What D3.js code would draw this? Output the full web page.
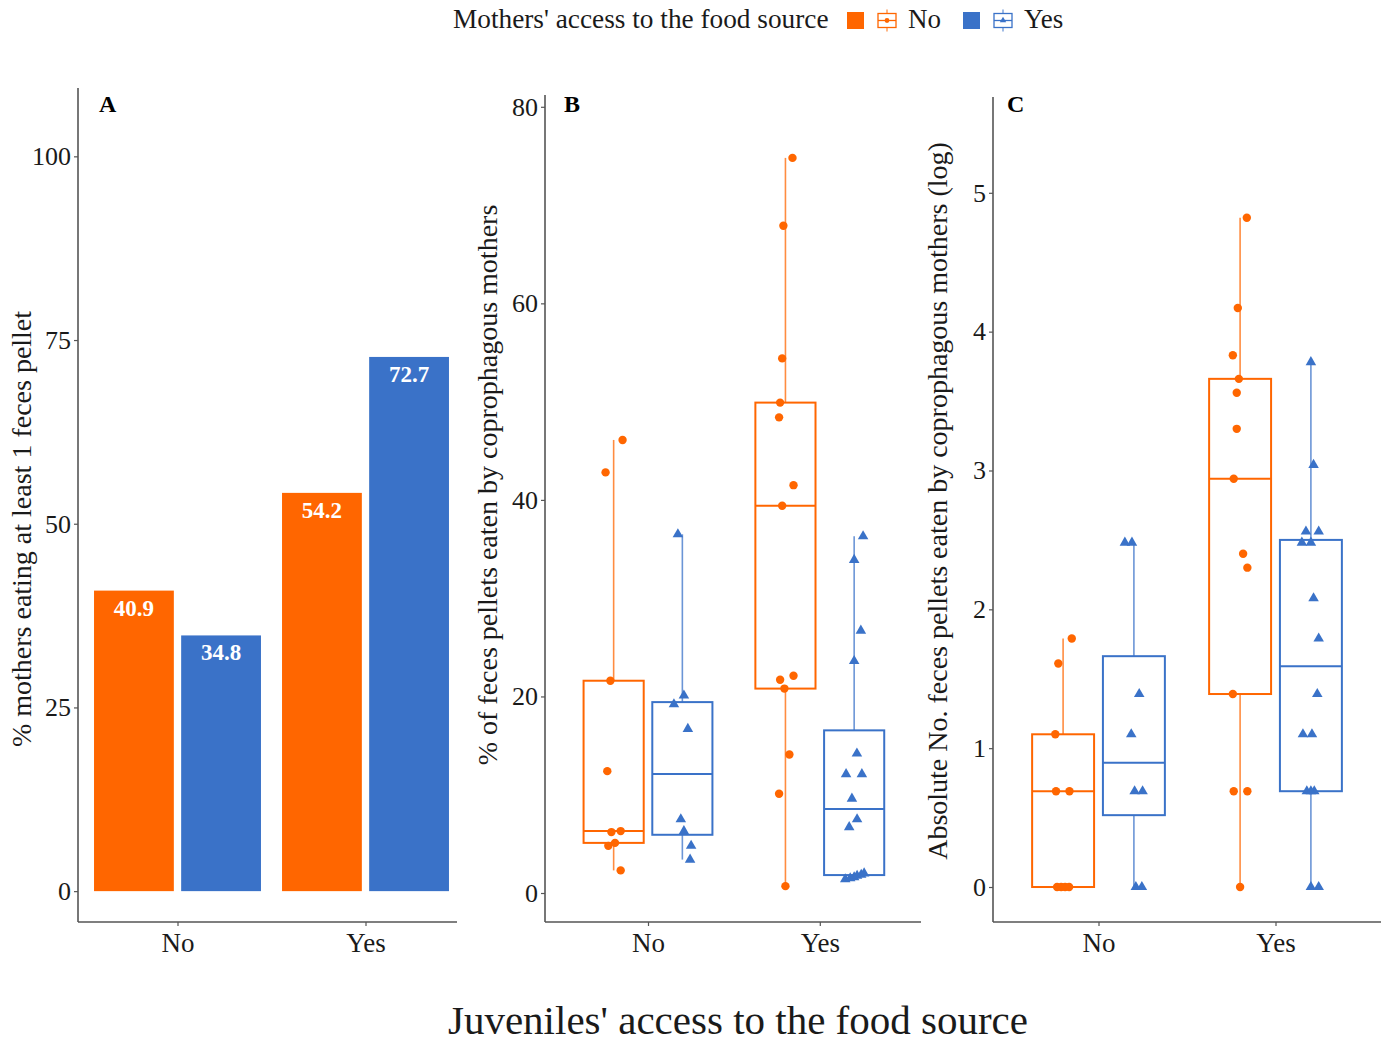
<!DOCTYPE html>
<html>
<head>
<meta charset="utf-8">
<script src="https://cdn.jsdelivr.net/npm/d3@7"></script>
<style>
  body { margin: 0; background: #fff; }
  text { font-family: "Liberation Serif", "Times New Roman", serif; }
</style>
</head>
<body>
<svg id="fig" width="1390" height="1043"></svg>
<script>
// ---------- data ----------
const juvenileAccess = ["No", "Yes"];
const motherAccess = ["No", "Yes"];

// Panel A: % of mothers eating at least one feces pellet (by juvenile access)
const pctEatingMothersNo = [40.9, 54.2];
const pctEatingMothersYes = [34.8, 72.7];
const ticksA = [0, 25, 50, 75, 100];

// Panel B: % of feces pellets eaten by coprophagous mothers
const pctB_juvNo_motNo = [46.1, 42.8, 21.6, 12.4, 6.2, 6.3, 4.8, 5.1, 2.3];
const pctB_juvNo_motYes = [36.5, 20.1, 19.2, 16.7, 7.5, 6.3, 4.8, 3.4];
const pctB_juvYes_motNo = [74.8, 67.9, 54.4, 49.9, 48.4, 41.5, 39.4, 21.7, 22.1, 20.8, 14.1, 10.1, 0.7];
const pctB_juvYes_motYes = [36.3, 33.9, 26.7, 23.6, 14.2, 12.1, 12.1, 9.6, 7.5, 6.7, 1.4, 1.5, 1.6, 1.75, 1.85, 2.0];
const ticksB = [0, 20, 40, 60, 80];

// Panel C: absolute number of pellets eaten (log scale values)
const logC_juvNo_motNo = [1.79, 1.61, 1.10, 0.69, 0.69, 0, 0, 0, 0];
const logC_juvNo_motYes = [2.48, 2.48, 1.39, 1.10, 0.69, 0.69, 0, 0];
const logC_juvYes_motNo = [4.82, 4.17, 3.83, 3.66, 3.56, 3.30, 2.94, 2.40, 2.30, 1.39, 0.69, 0.69, 0];
const logC_juvYes_motYes = [3.78, 3.04, 2.56, 2.56, 2.48, 2.48, 2.08, 1.79, 1.39, 1.10, 1.10, 0.69, 0.69, 0.69, 0, 0];
const ticksC = [0, 1, 2, 3, 4, 5];

// horizontal jitter of the points, in category-step units
const jitB_juvNo_motNo = [0.052, -0.047, -0.019, -0.037, -0.013, 0.041, -0.031, 0.008, 0.041];
const jitB_juvNo_motYes = [-0.026, 0.009, -0.049, 0.032, -0.009, 0.009, 0.051, 0.045];
const jitB_juvYes_motNo = [0.041, -0.012, -0.019, -0.031, -0.037, 0.047, -0.019, -0.031, 0.047, -0.006, 0.023, -0.037, 0];
const jitB_juvYes_motYes = [0.052, 0, 0.039, 0, 0.016, -0.047, 0.045, -0.013, 0.017, -0.029, -0.052, -0.023, 0, 0.017, 0.041, 0.058];
const jitC_juvNo_motNo = [0.049, -0.027, -0.044, -0.040, 0.036, -0.034, -0.011, 0.011, 0.034];
const jitC_juvNo_motYes = [-0.051, -0.011, 0.030, -0.015, 0.004, 0.049, 0.011, 0.045];
const jitC_juvYes_motNo = [0.038, -0.013, -0.041, -0.007, -0.019, -0.019, -0.036, 0.017, 0.041, -0.041, -0.036, 0.041, 0];
const jitC_juvYes_motYes = [0, 0.015, -0.028, 0.044, -0.051, 0, 0.015, 0.044, 0.036, -0.045, 0.006, -0.023, 0.019, 0, 0, 0.044];

// ---------- styles ----------
const colour = { No: "#FF6600", Yes: "#3A72C8" };
const axisColour = "#555";
const textColour = "#1a1a1a";

const svg = d3.select("#fig");

// ---------- shared helpers ----------
function drawAxes(g, p, y, ticks, x) {
  // y axis
  g.append("line").attr("x1", p.left).attr("x2", p.left).attr("y1", p.top).attr("y2", p.bottom)
    .attr("stroke", axisColour).attr("stroke-width", 1.6);
  // x axis
  g.append("line").attr("x1", p.left).attr("x2", p.right).attr("y1", p.bottom).attr("y2", p.bottom)
    .attr("stroke", axisColour).attr("stroke-width", 1.6);
  const yAxis = d3.axisLeft(y).tickValues(ticks).tickFormat(d3.format("d")).tickSize(4).tickPadding(3);
  const ya = g.append("g").attr("transform", `translate(${p.left},0)`).call(yAxis);
  ya.select(".domain").remove();
  ya.selectAll(".tick line").attr("stroke", axisColour).attr("stroke-width", 1.2);
  ya.selectAll(".tick text").attr("font-size", 26).attr("fill", textColour)
    .style("font-family", '"Liberation Serif", serif');
  const xAxis = d3.axisBottom(x).tickSize(4).tickPadding(7);
  const xa = g.append("g").attr("transform", `translate(0,${p.bottom})`).call(xAxis);
  xa.select(".domain").remove();
  xa.selectAll(".tick line").attr("stroke", axisColour).attr("stroke-width", 1.2);
  xa.selectAll(".tick text").attr("font-size", 27).attr("fill", textColour)
    .style("font-family", '"Liberation Serif", serif');
  // panel letter
  g.append("text").attr("x", p.left + p.letterDx).attr("y", 112).attr("font-size", 24)
    .attr("font-weight", "bold").attr("fill", "#000").text(p.letter);
  // y title
  g.append("text").attr("transform", `translate(${p.titleX},${p.titleY}) rotate(-90)`)
    .attr("text-anchor", "middle").attr("font-size", 28).attr("fill", textColour).text(p.title);
}

// ---------- Panel A: bars ----------
(function () {
  const p = { left: 78, right: 457, top: 88, bottom: 922, letter: "A", letterDx: 21,
              title: "% mothers eating at least 1  feces pellet", titleX: 31, titleY: 529 };
  const g = svg.append("g");
  const x = d3.scalePoint().domain(juvenileAccess).range([177.5, 365.5]);
  const step = x.step();
  const y = d3.scaleLinear().domain([-4.2, 109.3]).range([p.bottom, p.top]);
  const inner = d3.scaleBand().domain(motherAccess).range([-0.444 * step, 0.444 * step]).paddingInner(0.084);

  const rows = [];
  juvenileAccess.forEach((j, i) => {
    rows.push({ juv: j, mot: "No", v: pctEatingMothersNo[i] });
    rows.push({ juv: j, mot: "Yes", v: pctEatingMothersYes[i] });
  });

  g.selectAll("rect.bar").data(rows).join("rect").attr("class", "bar")
    .attr("x", d => x(d.juv) + inner(d.mot))
    .attr("width", inner.bandwidth())
    .attr("y", d => y(d.v))
    .attr("height", d => y(0) - y(d.v))
    .attr("fill", d => colour[d.mot]);

  g.selectAll("text.val").data(rows).join("text").attr("class", "val")
    .attr("x", d => x(d.juv) + inner(d.mot) + inner.bandwidth() / 2)
    .attr("y", d => y(d.v) + 25)
    .attr("text-anchor", "middle").attr("font-size", 23).attr("font-weight", "bold")
    .attr("fill", "#fff").text(d => d3.format(".1f")(d.v));

  drawAxes(g, p, y, ticksA, x);
})();

// ---------- Panels B and C: box plots with jittered points ----------
function boxPanel(p, groups, yDomain, ticks) {
  const g = svg.append("g");
  const x = d3.scalePoint().domain(juvenileAccess).range(p.cats);
  const step = x.step();
  const y = d3.scaleLinear().domain(yDomain).range([p.bottom, p.top]);
  const dodge = 0.2 * step, boxW = 0.35 * step;

  groups.forEach(gr => {
    const vals = gr.values.slice().sort(d3.ascending);
    const q1 = d3.quantileSorted(vals, 0.25);
    const med = d3.quantileSorted(vals, 0.5);
    const q3 = d3.quantileSorted(vals, 0.75);
    const iqr = q3 - q1;
    const lo = d3.min(vals.filter(v => v >= q1 - 1.5 * iqr));
    const hi = d3.max(vals.filter(v => v <= q3 + 1.5 * iqr));
    const cx = x(gr.juv) + (gr.mot === "No" ? -dodge : dodge);
    const c = colour[gr.mot];

    // whiskers
    g.append("line").attr("x1", cx).attr("x2", cx).attr("y1", y(q3)).attr("y2", y(hi))
      .attr("stroke", c).attr("stroke-width", 1.6).attr("stroke-opacity", 0.75);
    g.append("line").attr("x1", cx).attr("x2", cx).attr("y1", y(q1)).attr("y2", y(lo))
      .attr("stroke", c).attr("stroke-width", 1.6).attr("stroke-opacity", 0.75);
    // box
    g.append("rect").attr("x", cx - boxW / 2).attr("width", boxW)
      .attr("y", y(q3)).attr("height", Math.max(0.5, y(q1) - y(q3)))
      .attr("fill", "none").attr("stroke", c).attr("stroke-width", 2);
    g.append("line").attr("x1", cx - boxW / 2).attr("x2", cx + boxW / 2)
      .attr("y1", y(med)).attr("y2", y(med)).attr("stroke", c).attr("stroke-width", 2);

    // points
    const pts = gr.values.map((v, i) => ({ v, dx: gr.jitter[i] * step }));
    if (gr.mot === "No") {
      g.selectAll(null).data(pts).join("circle")
        .attr("cx", d => cx + d.dx).attr("cy", d => y(d.v)).attr("r", 4.2).attr("fill", c);
    } else {
      const tri = d3.symbol().type(d3.symbolTriangle).size(48);
      g.selectAll(null).data(pts).join("path")
        .attr("d", tri).attr("transform", d => `translate(${cx + d.dx},${y(d.v)})`).attr("fill", c);
    }
  });

  drawAxes(g, p, y, ticks, x);
}

boxPanel(
  { left: 545, right: 921, top: 95, bottom: 922, cats: [648, 819.8], letter: "B", letterDx: 19,
    title: "% of feces pellets eaten by coprophagous mothers", titleX: 497, titleY: 485 },
  [
    { juv: "No", mot: "No", values: pctB_juvNo_motNo, jitter: jitB_juvNo_motNo },
    { juv: "No", mot: "Yes", values: pctB_juvNo_motYes, jitter: jitB_juvNo_motYes },
    { juv: "Yes", mot: "No", values: pctB_juvYes_motNo, jitter: jitB_juvYes_motNo },
    { juv: "Yes", mot: "Yes", values: pctB_juvYes_motYes, jitter: jitB_juvYes_motYes }
  ],
  [-2.95, 81.2], ticksB
);

boxPanel(
  { left: 993, right: 1381, top: 97, bottom: 922, cats: [1098.5, 1275.5], letter: "C", letterDx: 14,
    title: "Absolute No. feces pellets eaten by coprophagous mothers (log)", titleX: 947, titleY: 501 },
  [
    { juv: "No", mot: "No", values: logC_juvNo_motNo, jitter: jitC_juvNo_motNo },
    { juv: "No", mot: "Yes", values: logC_juvNo_motYes, jitter: jitC_juvNo_motYes },
    { juv: "Yes", mot: "No", values: logC_juvYes_motNo, jitter: jitC_juvYes_motNo },
    { juv: "Yes", mot: "Yes", values: logC_juvYes_motYes, jitter: jitC_juvYes_motYes }
  ],
  [-0.252, 5.69], ticksC
);

// ---------- shared x title ----------
svg.append("text").attr("x", 738).attr("y", 1034).attr("text-anchor", "middle")
  .attr("font-size", 41).attr("fill", textColour).text("Juveniles' access to the food source");

// ---------- legend ----------
(function () {
  const lg = svg.append("g");
  lg.append("text").attr("x", 453).attr("y", 28).attr("font-size", 27.3).attr("fill", textColour)
    .text("Mothers' access to the food source");
  const keys = [{ k: "No", x: 847 }, { k: "Yes", x: 963 }];
  keys.forEach(d => {
    const c = colour[d.k];
    lg.append("rect").attr("x", d.x).attr("y", 12).attr("width", 17).attr("height", 17).attr("fill", c);
    const bx = d.x + 31, by = 20.5;
    lg.append("line").attr("x1", bx + 9).attr("x2", bx + 9).attr("y1", by - 11).attr("y2", by + 11)
      .attr("stroke", c).attr("stroke-width", 1.2).attr("stroke-opacity", 0.8);
    lg.append("rect").attr("x", bx).attr("y", by - 7).attr("width", 18).attr("height", 14)
      .attr("fill", "#fff").attr("stroke", c).attr("stroke-width", 1.3);
    lg.append("line").attr("x1", bx).attr("x2", bx + 18).attr("y1", by).attr("y2", by)
      .attr("stroke", c).attr("stroke-width", 1.3);
    if (d.k === "No") {
      lg.append("circle").attr("cx", bx + 9).attr("cy", by).attr("r", 2.4).attr("fill", c);
    } else {
      lg.append("path").attr("d", d3.symbol().type(d3.symbolTriangle).size(18))
        .attr("transform", `translate(${bx + 9},${by})`).attr("fill", c);
    }
    lg.append("text").attr("x", d.x + 61).attr("y", 28).attr("font-size", 27).attr("fill", textColour).text(d.k);
  });
})();
</script>
</body>
</html>
